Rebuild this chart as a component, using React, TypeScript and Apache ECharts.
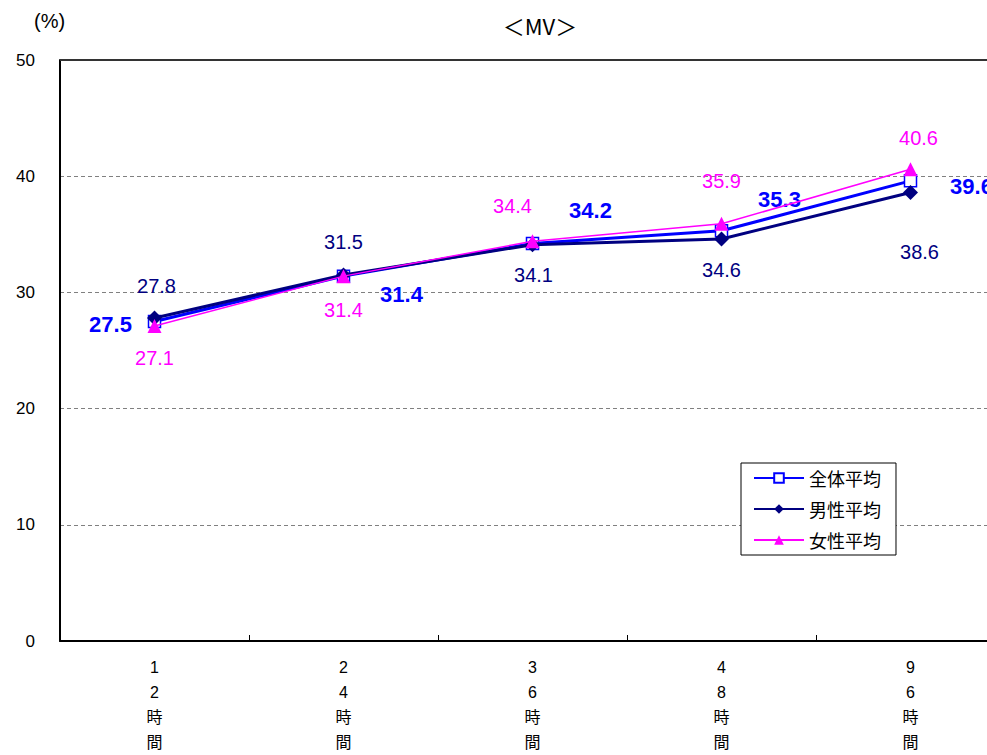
import React, { useEffect, useRef } from "react";
import * as echarts from "echarts";

const categories = ["12時間", "24時間", "36時間", "48時間", "96時間"];
const seriesNames = ["全体平均", "男性平均", "女性平均"];
const allAvg = [27.5, 31.4, 34.2, 35.3, 39.6];
const maleAvg = [27.8, 31.5, 34.1, 34.6, 38.6];
const femaleAvg = [27.1, 31.4, 34.4, 35.9, 40.6];
const yTicks = [0, 10, 20, 30, 40, 50];

// label offsets (pixels, relative to the point) – styling only
const allOffsets = [[-44, 3], [58, 18], [58, -33], [58, -31], [61, 6]];
const maleOffsets = [[2, -32], [0, -33], [1, 30], [0, 31], [9, 60]];
const femaleOffsets = [[0, 32], [0, 34], [-20, -35], [0, -43], [8, -31]];

const FONT = "'Liberation Sans', 'Noto Sans CJK JP', sans-serif";
const CJK = "'Noto Sans CJK JP', sans-serif";

function withLabels(values: number[], offsets: number[][], color: string, size: number, weight: string) {
  return values.map((v, i) => ({
    value: v,
    label: {
      show: true,
      position: "inside",
      offset: offsets[i],
      color,
      fontSize: size,
      fontWeight: weight,
      fontFamily: FONT,
      align: "center",
      verticalAlign: "middle",
      formatter: (p: any) => Number(p.value).toFixed(1),
    },
  }));
}

export default function App() {
  const ref = useRef<HTMLDivElement>(null);
  useEffect(() => {
    if (!ref.current) return;
    const chart = echarts.init(ref.current, null, { renderer: "svg" });
    chart.setOption({
      animation: false,
      backgroundColor: "#ffffff",
      textStyle: { fontFamily: FONT },
      title: [
        {
          text: "＜MV＞",
          left: 535,
          top: 9,
          textAlign: "center",
          textStyle: { fontSize: 22, fontWeight: "normal", color: "#000", fontFamily: CJK },
        },
        {
          text: "(%)",
          left: 34,
          top: 11,
          padding: 0,
          textStyle: { fontSize: 20, fontWeight: "normal", color: "#000", fontFamily: FONT },
        },
      ],
      legend: {
        data: seriesNames,
        orient: "vertical",
        left: 741,
        top: 463,
        backgroundColor: "#ffffff",
        borderColor: "#000",
        borderWidth: 1,
        padding: [5, 15, 5, 12],
        itemWidth: 50,
        itemHeight: 12,
        itemGap: 11,
        textStyle: { fontSize: 18, lineHeight: 20, color: "#000", fontFamily: CJK },
      },
      grid: { left: 60, top: 60, right: 0, bottom: 114, containLabel: false },
      xAxis: {
        type: "category",
        data: categories,
        boundaryGap: true,
        axisLine: { lineStyle: { color: "#000", width: 2 } },
        axisTick: { show: true, inside: true, length: 6, lineStyle: { color: "#000", width: 1 } },
        axisLabel: {
          interval: 0,
          margin: 14,
          fontSize: 16,
          lineHeight: 25,
          color: "#000",
          fontFamily: FONT,
          formatter: (v: string) => v.split("").join("\n"),
        },
      },
      yAxis: {
        type: "value",
        min: yTicks[0],
        max: yTicks[yTicks.length - 1],
        interval: 10,
        axisLine: { show: true, lineStyle: { color: "#000", width: 2 } },
        axisTick: { show: false },
        axisLabel: { margin: 25, fontSize: 17, color: "#000", fontFamily: FONT },
        splitLine: { show: true, lineStyle: { color: "#808080", type: [4, 3], width: 1 } },
      },
      series: [
        {
          name: seriesNames[0],
          type: "line",
          data: withLabels(allAvg, allOffsets, "#0000FF", 22, "bold"),
          symbol: "rect",
          symbolSize: 12,
          lineStyle: { color: "#0000FF", width: 3 },
          itemStyle: { color: "#ffffff", borderColor: "#0000FF", borderWidth: 1.5 },
          z: 2,
          markLine: {
            silent: true,
            symbol: "none",
            label: { show: false },
            lineStyle: { color: "#333333", type: "solid", width: 2 },
            data: [{ yAxis: yTicks[yTicks.length - 1] }],
          },
        },
        {
          name: seriesNames[1],
          type: "line",
          data: withLabels(maleAvg, maleOffsets, "#000080", 20, "normal"),
          symbol: "diamond",
          symbolSize: 15,
          lineStyle: { color: "#000080", width: 3 },
          itemStyle: { color: "#000080" },
          z: 3,
        },
        {
          name: seriesNames[2],
          type: "line",
          data: withLabels(femaleAvg, femaleOffsets, "#FF00FF", 20, "normal"),
          symbol: "triangle",
          symbolSize: 14,
          lineStyle: { color: "#FF00FF", width: 1.5 },
          itemStyle: { color: "#FF00FF" },
          z: 4,
        },
      ],
    });
    return () => chart.dispose();
  }, []);
  return (
    <div
      style={{ position: "absolute", left: 0, top: 0, width: 987, height: 755, overflow: "hidden" }}
    >
      <div ref={ref} style={{ width: 1005, height: 755 }} />
    </div>
  );
}
